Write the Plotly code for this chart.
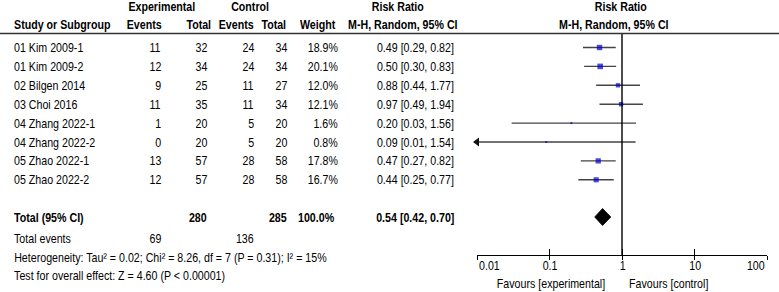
import math
import plotly.graph_objects as go

W, H = 779, 292

# ---------------- data ----------------
studies = ["01 Kim 2009-1", "01 Kim 2009-2", "02 Bilgen 2014", "03 Choi 2016",
           "04 Zhang 2022-1", "04 Zhang 2022-2", "05 Zhao 2022-1", "05 Zhao 2022-2"]
exp_events = [11, 12, 9, 11, 1, 0, 13, 12]
exp_total = [32, 34, 25, 35, 20, 20, 57, 57]
ctl_events = [24, 24, 11, 11, 5, 5, 28, 28]
ctl_total = [34, 34, 27, 34, 20, 20, 58, 58]
weights = [18.9, 20.1, 12.0, 12.1, 1.6, 0.8, 17.8, 16.7]
rr = [0.49, 0.50, 0.88, 0.97, 0.20, 0.09, 0.47, 0.44]
ci_low = [0.29, 0.30, 0.44, 0.49, 0.03, 0.01, 0.27, 0.25]
ci_high = [0.82, 0.83, 1.77, 1.94, 1.56, 1.54, 0.82, 0.77]
total_exp = 280
total_ctl = 285
total_weight = "100.0%"
total_rr, total_low, total_high = 0.54, 0.42, 0.70
total_events_exp = 69
total_events_ctl = 136
heterogeneity = "Heterogeneity: Tau² = 0.02; Chi² = 8.26, df = 7 (P = 0.31); I² = 15%"
overall = "Test for overall effect: Z = 4.60 (P < 0.00001)"
tick_vals = [0.01, 0.1, 1, 10, 100]
tick_text = ["0.01", "0.1", "1", "10", "100"]
axis_min, axis_max = 0.01, 100

# ---------------- layout constants ----------------
FONT = "Liberation Sans, Arial, sans-serif"
FS = 13
NARROW = 0.82          # horizontal compression to imitate Arial Narrow
TXT = "#000000"
ROW0, ROWSTEP = 47.5, 18.9
row_y = [ROW0 + i * ROWSTEP for i in range(len(studies))]
Y_TOTAL, Y_TEV, Y_HET, Y_TEST = 217, 238, 257, 275
Y_AXIS = 255
Y_HDR1, Y_HDR2, Y_RULE = 6.5, 24.5, 33.5

fig = go.Figure()
ann = []


def txt(px, py, s, anchor="left", bold=False, size=FS):
    ann.append(dict(x=px / W, y=py, xref="paper", yref="y", text=("<b>%s</b>" % s) if bold else s,
                    showarrow=False, xanchor=anchor, yanchor="middle",
                    font=dict(family=FONT, size=size, color=TXT)))


# headers
txt(162, Y_HDR1, "Experimental", "center", True)
txt(250, Y_HDR1, "Control", "center", True)
txt(398, Y_HDR1, "Risk Ratio", "center", True)
txt(621, Y_HDR1, "Risk Ratio", "center", True)
txt(12, Y_HDR2, "Study or Subgroup", "left", True)
txt(164, Y_HDR2, "Events", "right", True)
txt(213, Y_HDR2, "Total", "right", True)
txt(256, Y_HDR2, "Events", "right", True)
txt(288, Y_HDR2, "Total", "right", True)
txt(338, Y_HDR2, "Weight", "right", True)
txt(403, Y_HDR2, "M-H, Random, 95% CI", "center", True)
txt(614, Y_HDR2, "M-H, Random, 95% CI", "center", True)

# rows
for i, s in enumerate(studies):
    y = row_y[i]
    txt(12, y, s)
    txt(163, y, str(exp_events[i]), "right")
    txt(209, y, str(exp_total[i]), "right")
    txt(256, y, str(ctl_events[i]), "right")
    txt(289, y, str(ctl_total[i]), "right")
    txt(340, y, "%.1f%%" % weights[i], "right")
    txt(456, y, "%.2f [%.2f, %.2f]" % (rr[i], ci_low[i], ci_high[i]), "right")

# totals
txt(12, Y_TOTAL, "Total (95% CI)", "left", True)
txt(209, Y_TOTAL, str(total_exp), "right", True)
txt(289, Y_TOTAL, str(total_ctl), "right", True)
txt(337, Y_TOTAL, total_weight, "right", True)
txt(456, Y_TOTAL, "%.2f [%.2f, %.2f]" % (total_rr, total_low, total_high), "right", True)
txt(12, Y_TEV, "Total events")
txt(163, Y_TEV, str(total_events_exp), "right")
txt(256, Y_TEV, str(total_events_ctl), "right")
txt(12, Y_HET, heterogeneity)
txt(12, Y_TEST, overall)

# favours labels
txt(607, 283, "Favours [experimental]", "right")
txt(627, 283, "Favours [control]", "left")

# axis tick labels (RevMan style: outer labels aligned inward)
for k, (v, t) in enumerate(zip(tick_vals, tick_text)):
    anc = "left" if k == 0 else ("right" if k == len(tick_vals) - 1 else "center")
    ann.append(dict(x=math.log10(v), y=265, xref="x", yref="y", text=t, showarrow=False,
                    xanchor=anc, yanchor="middle", font=dict(family=FONT, size=FS, color=TXT)))

# ---------------- forest traces ----------------
for i in range(len(studies)):
    lo = max(ci_low[i], axis_min)
    fig.add_trace(go.Scatter(x=[lo, ci_high[i]], y=[row_y[i], row_y[i]], mode="lines",
                             line=dict(color="#444444", width=1.4), hoverinfo="skip",
                             showlegend=False, cliponaxis=False))
    if ci_low[i] <= axis_min:
        fig.add_trace(go.Scatter(x=[axis_min], y=[row_y[i]], mode="markers",
                                 marker=dict(symbol="triangle-left", size=8, color="#111111",
                                             line=dict(width=0)),
                                 showlegend=False, cliponaxis=False))

sizes = [max(2.0, 1.25 * (w ** 0.5)) for w in weights]
fig.add_trace(go.Scatter(x=rr, y=row_y, mode="markers",
                         marker=dict(symbol="square", size=sizes, color="#0000cc",
                                     line=dict(width=0)),
                         showlegend=False, cliponaxis=False))

# diamond
fig.add_trace(go.Scatter(x=[total_low, total_rr, total_high, total_rr, total_low],
                         y=[Y_TOTAL, Y_TOTAL - 8.5, Y_TOTAL, Y_TOTAL + 8.5, Y_TOTAL],
                         mode="lines", fill="toself", fillcolor="black",
                         line=dict(color="black", width=0.8), showlegend=False))

# line of no effect (drawn on the overlay axis so it exists)
fig.add_trace(go.Scatter(x=[1, 1], y=[Y_RULE, Y_AXIS], mode="lines", xaxis="x2", yaxis="y",
                         line=dict(color="black", width=1.4), showlegend=False))

axis_common = dict(type="log", range=[math.log10(axis_min), math.log10(axis_max)],
                   domain=[477 / W, 767 / W], anchor="free", position=1 - Y_AXIS / H,
                   tickvals=tick_vals, showticklabels=False, tickwidth=1.3, tickcolor="black",
                   showgrid=False, zeroline=False)

fig.update_layout(
    width=W, height=H, margin=dict(l=0, r=0, t=0, b=0),
    paper_bgcolor="white", plot_bgcolor="white",
    annotations=ann,
    shapes=[dict(type="line", xref="paper", yref="y", x0=0, x1=1, y0=Y_RULE, y1=Y_RULE,
                 line=dict(color="#333333", width=1.3))],
    xaxis=dict(**axis_common, showline=True, linecolor="black", linewidth=1.3,
               ticks="inside", ticklen=6),
    xaxis2=dict(**axis_common, overlaying="x", showline=False, ticks="outside", ticklen=4),
    yaxis=dict(range=[H, 0], domain=[0, 1], visible=False, showgrid=False),
    showlegend=False,
)

post = """
var gd = document.getElementById('{plot_id}');
var S = %f;
var anns = (gd.layout && gd.layout.annotations) || [];
gd.querySelectorAll('g.annotation').forEach(function(g){
  var idx = +g.getAttribute('data-index');
  var a = anns[idx] || {};
  var t = g.querySelector('text');
  if (!t) return;
  var b = t.getBBox();
  var ax = a.xanchor === 'left' ? b.x : (a.xanchor === 'right' ? b.x + b.width : b.x + b.width / 2);
  var tr = t.getAttribute('transform') || '';
  t.setAttribute('transform', tr + ' translate(' + ax + ',0) scale(' + S + ',1) translate(' + (-ax) + ',0)');
});
""" % NARROW

fig.write_html("out.html", post_script=post)
